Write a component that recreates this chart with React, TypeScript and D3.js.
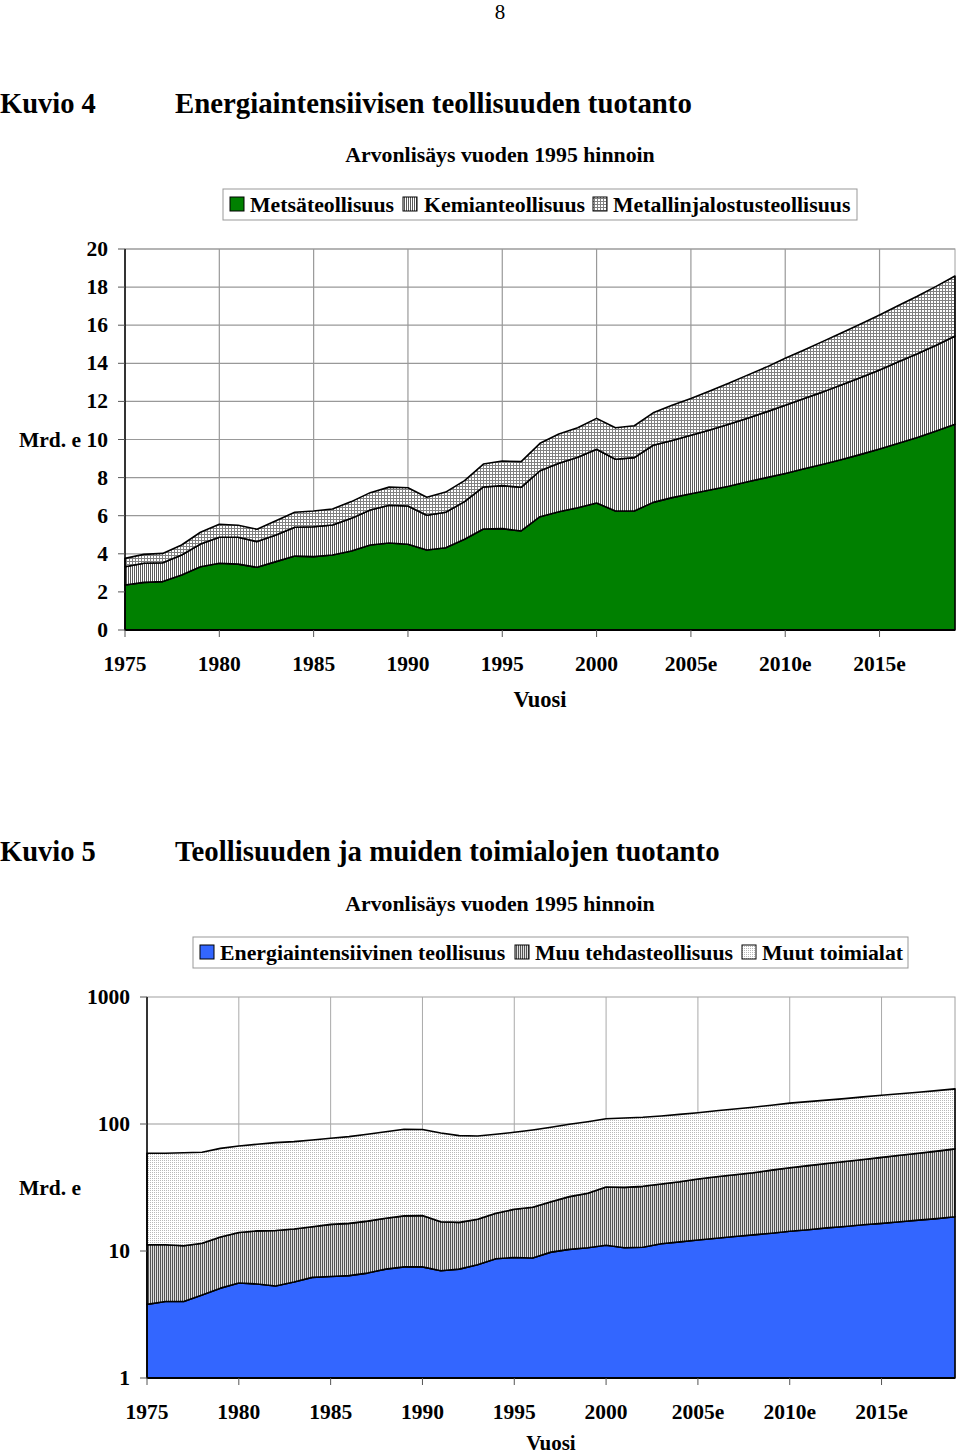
import React from "react";
import * as d3 from "d3";

const years: number[] = d3.range(1975, 2020);
const xTickYears = [1975, 1980, 1985, 1990, 1995, 2000, 2005, 2010, 2015];
const xTickLabels = ["1975", "1980", "1985", "1990", "1995", "2000", "2005e", "2010e", "2015e"];

// Kuvio 4 (Mrd. e)
const metsa = [2.36,2.50,2.54,2.89,3.32,3.50,3.46,3.29,3.59,3.88,3.85,3.94,4.15,4.46,4.57,
  4.50,4.20,4.32,4.76,5.30,5.32,5.20,5.95,6.21,6.42,6.67,6.25,6.25,
  6.70,6.95,7.15,7.35,7.55,7.78,8.00,8.22,8.46,8.70,8.95,9.22,9.50,9.80,10.10,10.45,10.80];
const kemia = [0.96,1.00,0.99,1.05,1.19,1.37,1.41,1.35,1.40,1.51,1.57,1.57,1.71,1.84,1.98,
  2.01,1.82,1.86,1.98,2.21,2.26,2.29,2.41,2.54,2.65,2.82,2.71,2.80,
  3.00,3.00,3.07,3.15,3.25,3.34,3.45,3.58,3.69,3.80,3.93,4.03,4.15,4.28,4.40,4.50,4.63];
const metalli = [0.44,0.47,0.49,0.52,0.62,0.68,0.63,0.65,0.75,0.79,0.83,0.84,0.88,0.91,0.95,
  0.96,0.95,1.06,1.10,1.20,1.29,1.35,1.44,1.54,1.55,1.62,1.66,1.67,
  1.70,1.85,1.93,2.05,2.15,2.26,2.35,2.46,2.55,2.65,2.72,2.81,2.89,2.95,3.02,3.09,3.15];
const yTicks4 = [0, 2, 4, 6, 8, 10, 12, 14, 16, 18, 20];

// Kuvio 5 (Mrd. e, log)
const energia = [3.8,4.0,4.0,4.5,5.1,5.6,5.5,5.3,5.7,6.2,6.3,6.4,6.7,7.2,7.5,
  7.5,7.0,7.2,7.8,8.7,8.9,8.8,9.8,10.3,10.6,11.1,10.6,10.7,
  11.4,11.8,12.2,12.6,13.0,13.4,13.8,14.3,14.7,15.2,15.6,16.1,16.5,17.0,17.5,18.0,18.6];
const muuTehdas = [7.4,7.2,7.0,7.0,7.8,8.4,8.9,9.2,9.2,9.3,9.9,10.1,10.5,10.9,11.4,
  11.5,10.0,9.6,10.0,11.1,12.4,13.3,14.6,16.5,17.9,20.8,21.1,21.6,
  22.3,23.3,24.7,25.8,26.9,27.9,29.5,31.0,32.3,33.7,35.1,36.5,38.1,39.7,41.4,43.2,45.1];
const muutToimialat = [47.7,47.7,48.4,48.4,51.4,53.2,54.8,56.9,57.7,59.3,61.0,63.0,65.8,68.9,72.0,
  71.5,68.0,64.2,62.7,63.2,64.7,67.6,69.8,72.7,75.8,78.2,79.7,80.7,
  81.9,83.9,85.7,88.7,91.2,94.2,97.2,100.7,103.0,105.2,107.8,110.9,113.9,116.3,119.1,121.8,125.3];
const yTicks5 = [1, 10, 100, 1000];

const FONT = "'Liberation Serif', 'Times New Roman', serif";
const TICK_FS = 21.5;
const LEG_FS = 21.8;

type Row = { year: number; [k: string]: number };

function Chart4() {
  const x = d3.scaleLinear().domain([1975, 2019]).range([125, 955]);
  const y = d3.scaleLinear().domain([0, 20]).range([630, 249]);
  const keys = ["metsa", "kemia", "metalli"];
  const rows: Row[] = years.map((yr, i) => ({ year: yr, metsa: metsa[i], kemia: kemia[i], metalli: metalli[i] }));
  const series = d3.stack<Row>().keys(keys)(rows);
  const area = d3.area<any>().x((d) => x(d.data.year)).y0((d) => y(d[0])).y1((d) => y(d[1]));
  const fills = ["#008000", "url(#vlines4)", "url(#grid4)"];
  return (
    <g>
      <rect x={125} y={249} width={830} height={381} fill="white" stroke="#a0a0a0" strokeWidth={1} />
      {yTicks4.filter((t) => t > 0).map((t) => (
        <line key={t} x1={125} x2={955} y1={y(t)} y2={y(t)} stroke="#999" strokeWidth={1.2} />
      ))}
      {xTickYears.filter((t) => t > 1975).map((t) => (
        <line key={t} x1={x(t)} x2={x(t)} y1={249} y2={630} stroke="#999" strokeWidth={1.2} />
      ))}
      {series.map((s, i) => (
        <path key={keys[i]} d={area(s) + "Z"} fill={fills[i]} stroke="black" strokeWidth={1.6} strokeLinejoin="round" />
      ))}
      <line x1={125} x2={125} y1={249} y2={630} stroke="black" strokeWidth={1.5} />
      <line x1={125} x2={955} y1={630} y2={630} stroke="black" strokeWidth={2} />
      {yTicks4.map((t) => (
        <g key={t}>
          <line x1={118} x2={125} y1={y(t)} y2={y(t)} stroke="#555" strokeWidth={1} />
          <text x={108} y={y(t) + 7} textAnchor="end" fontSize={TICK_FS} fontWeight="bold" fontFamily={FONT}>{t}</text>
        </g>
      ))}
      {xTickYears.map((t, i) => (
        <g key={t}>
          <line x1={x(t)} x2={x(t)} y1={630} y2={637} stroke="#555" strokeWidth={1} />
          <text x={x(t)} y={671} textAnchor="middle" fontSize={TICK_FS} fontWeight="bold" fontFamily={FONT}>{xTickLabels[i]}</text>
        </g>
      ))}
      <text x={19} y={447} fontSize={TICK_FS} fontWeight="bold" fontFamily={FONT}>Mrd. e</text>
      <text x={540} y={707} textAnchor="middle" fontSize={22.5} fontWeight="bold" fontFamily={FONT}>Vuosi</text>
    </g>
  );
}

function Chart5() {
  const x = d3.scaleLinear().domain([1975, 2019]).range([147, 955]);
  const y = d3.scaleLog().domain([1, 1000]).range([1378, 997]);
  const keys = ["energia", "muu", "muut"];
  const rows: Row[] = years.map((yr, i) => ({ year: yr, energia: energia[i], muu: muuTehdas[i], muut: muutToimialat[i] }));
  const series = d3.stack<Row>().keys(keys)(rows);
  const area = d3.area<any>().x((d) => x(d.data.year)).y0((d) => y(Math.max(1, d[0]))).y1((d) => y(d[1]));
  const fills = ["#3366ff", "url(#vlines5)", "url(#dots5)"];
  return (
    <g>
      <rect x={147} y={997} width={808} height={381} fill="white" stroke="#a0a0a0" strokeWidth={1} />
      {yTicks5.filter((t) => t > 1 && t < 1000).map((t) => (
        <line key={t} x1={147} x2={955} y1={y(t)} y2={y(t)} stroke="#999" strokeWidth={1.2} />
      ))}
      {xTickYears.filter((t) => t > 1975).map((t) => (
        <line key={t} x1={x(t)} x2={x(t)} y1={997} y2={1378} stroke="#aaa" strokeWidth={1} />
      ))}
      {series.map((s, i) => (
        <path key={keys[i]} d={area(s) + "Z"} fill={fills[i]} stroke="black" strokeWidth={1.6} strokeLinejoin="round" />
      ))}
      <line x1={147} x2={147} y1={997} y2={1378} stroke="black" strokeWidth={1.5} />
      <line x1={147} x2={955} y1={1378} y2={1378} stroke="black" strokeWidth={2} />
      {yTicks5.map((t) => (
        <g key={t}>
          <line x1={140} x2={147} y1={y(t)} y2={y(t)} stroke="#555" strokeWidth={1} />
          <text x={130} y={y(t) + 7} textAnchor="end" fontSize={TICK_FS} fontWeight="bold" fontFamily={FONT}>{t}</text>
        </g>
      ))}
      {xTickYears.map((t, i) => (
        <g key={t}>
          <line x1={x(t)} x2={x(t)} y1={1378} y2={1385} stroke="#555" strokeWidth={1} />
          <text x={x(t)} y={1419} textAnchor="middle" fontSize={TICK_FS} fontWeight="bold" fontFamily={FONT}>{xTickLabels[i]}</text>
        </g>
      ))}
      <text x={19} y={1195} fontSize={TICK_FS} fontWeight="bold" fontFamily={FONT}>Mrd. e</text>
      <text x={551} y={1450} textAnchor="middle" fontSize={21} fontWeight="bold" fontFamily={FONT}>Vuosi</text>
    </g>
  );
}

function Legend({ x, y, w, items }: { x: number; y: number; w: number; items: { sx: number; tx: number; fill: string; label: string }[] }) {
  return (
    <g>
      <rect x={x} y={y} width={w} height={31} fill="white" stroke="#999" strokeWidth={1} />
      {items.map((it) => (
        <g key={it.label}>
          <rect x={it.sx} y={y + 8} width={14} height={14} fill={it.fill} stroke="black" strokeWidth={1} />
          <text x={it.tx} y={y + 23} fontSize={LEG_FS} fontWeight="bold" fontFamily={FONT}>{it.label}</text>
        </g>
      ))}
    </g>
  );
}

export default function App() {
  return (
    <div style={{ position: "absolute", left: 0, top: 0 }}>
      <svg width={960} height={1455} style={{ display: "block", background: "white" }}>
        <defs>
          <pattern id="vlines4" width={2} height={4} patternUnits="userSpaceOnUse">
            <rect width={2} height={4} fill="white" />
            <rect x={0} y={0} width={1} height={4} fill="#5a5a5a" />
          </pattern>
          <pattern id="grid4" width={3} height={3} patternUnits="userSpaceOnUse">
            <rect width={3} height={3} fill="white" />
            <rect x={0} y={0} width={1} height={3} fill="#808080" />
            <rect x={0} y={0} width={3} height={1} fill="#808080" />
          </pattern>
          <pattern id="vlines5" width={2} height={4} patternUnits="userSpaceOnUse">
            <rect width={2} height={4} fill="#e0e0e0" />
            <rect x={0} y={0} width={1} height={4} fill="#555" />
          </pattern>
          <pattern id="dots5" width={2} height={2} patternUnits="userSpaceOnUse">
            <rect width={2} height={2} fill="white" />
            <rect x={0} y={0} width={1} height={1} fill="#b8b8b8" />
          </pattern>
        </defs>
        <text x={500} y={19} textAnchor="middle" fontSize={21} fontFamily={FONT}>8</text>

        <text x={0} y={113} fontSize={28.5} fontWeight="bold" fontFamily={FONT}>Kuvio 4</text>
        <text x={175} y={113} fontSize={28.8} fontWeight="bold" fontFamily={FONT}>Energiaintensiivisen teollisuuden tuotanto</text>
        <text x={500} y={162} textAnchor="middle" fontSize={21.8} fontWeight="bold" fontFamily={FONT}>Arvonlisäys vuoden 1995 hinnoin</text>
        <Legend x={223} y={189} w={634} items={[
          { sx: 230, tx: 250, fill: "#008000", label: "Metsäteollisuus" },
          { sx: 403, tx: 424, fill: "url(#vlines4)", label: "Kemianteollisuus" },
          { sx: 593, tx: 613, fill: "url(#grid4)", label: "Metallinjalostusteollisuus" },
        ]} />
        <Chart4 />

        <text x={0} y={861} fontSize={28.5} fontWeight="bold" fontFamily={FONT}>Kuvio 5</text>
        <text x={175} y={861} fontSize={28.8} fontWeight="bold" fontFamily={FONT}>Teollisuuden ja muiden toimialojen tuotanto</text>
        <text x={500} y={911} textAnchor="middle" fontSize={21.8} fontWeight="bold" fontFamily={FONT}>Arvonlisäys vuoden 1995 hinnoin</text>
        <Legend x={193} y={937} w={715} items={[
          { sx: 200, tx: 220, fill: "#3366ff", label: "Energiaintensiivinen teollisuus" },
          { sx: 515, tx: 535, fill: "url(#vlines5)", label: "Muu tehdasteollisuus" },
          { sx: 742, tx: 762, fill: "url(#dots5)", label: "Muut toimialat" },
        ]} />
        <Chart5 />
      </svg>
    </div>
  );
}
